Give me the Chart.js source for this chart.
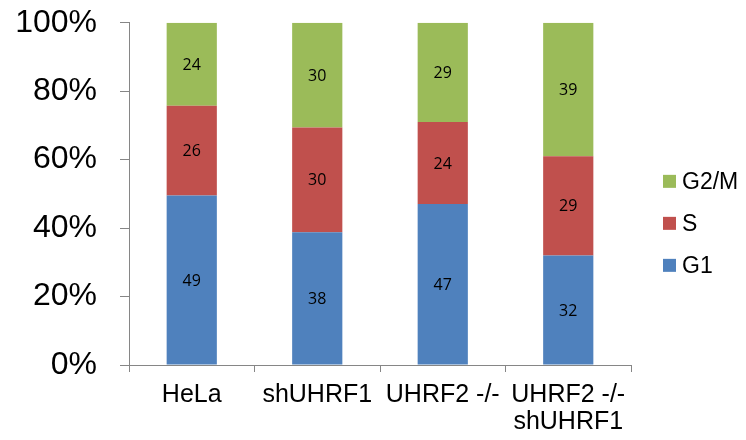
<!DOCTYPE html>
<html>
<head>
<meta charset="utf-8">
<script src="https://cdn.jsdelivr.net/npm/chart.js@4/dist/chart.umd.min.js"></script>
<style>
  html, body { margin: 0; padding: 0; background: #ffffff; }
  #wrap { width: 746px; height: 440px; }
</style>
</head>
<body>
<div id="wrap"><canvas id="c" width="746" height="440"></canvas></div>
<script>
// Cell-cycle distribution per cell line (raw counts, shown on the bars)
const categories = ["HeLa", "shUHRF1", "UHRF2 -/-", ["UHRF2 -/-", "shUHRF1"]];
const g1Values  = [49, 38, 47, 32];
const sValues   = [26, 30, 24, 29];
const g2mValues = [24, 30, 29, 39];
const seriesNames = ["G1", "S", "G2/M"];
const yTickLabels = ["0%", "20%", "40%", "60%", "80%", "100%"];

// 100% stacking: each phase as a share of its bar's total
const totals = g1Values.map((v, i) => v + sValues[i] + g2mValues[i]);
const toShare = arr => arr.map((v, i) => v / totals[i] * 100);

const AXIS_GREY = "#868686";

// Count labels in the middle of each segment
const segmentLabels = {
  id: "segmentLabels",
  afterDatasetsDraw(chart) {
    const ctx = chart.ctx;
    ctx.save();
    ctx.font = "16px 'Open Sans'";
    ctx.fillStyle = "#000000";
    ctx.textAlign = "center";
    ctx.textBaseline = "middle";
    chart.data.datasets.forEach((ds, di) => {
      const meta = chart.getDatasetMeta(di);
      meta.data.forEach((bar, i) => {
        const props = bar.getProps(["x", "y", "base"], true);
        ctx.fillText(String(ds.counts[i]), props.x, (props.y + props.base) / 2 + 1);
      });
    });
    ctx.restore();
  }
};

// Legend to the right of the plot, top entry = top segment
const sideLegend = {
  id: "sideLegend",
  afterDraw(chart) {
    const ctx = chart.ctx;
    const area = chart.chartArea;
    const x0 = area.right + 32;
    const rowGap = 42;
    const items = chart.data.datasets.slice().reverse();
    const yStart = (area.top + area.bottom) / 2 - rowGap * (items.length - 1) / 2 + 30;
    ctx.save();
    ctx.font = "23px 'Liberation Sans', Arial, sans-serif";
    ctx.textBaseline = "middle";
    ctx.textAlign = "left";
    items.forEach((ds, k) => {
      const cy = yStart + k * rowGap;
      ctx.fillStyle = ds.backgroundColor;
      ctx.fillRect(x0, cy - 7, 13, 13);
      ctx.fillStyle = "#000000";
      ctx.fillText(ds.label, x0 + 19, cy + 1);
    });
    ctx.restore();
  }
};

new Chart(document.getElementById("c"), {
  type: "bar",
  data: {
    labels: categories,
    datasets: [
      { label: seriesNames[0], data: toShare(g1Values),  counts: g1Values,  backgroundColor: "#4F81BD" },
      { label: seriesNames[1], data: toShare(sValues),   counts: sValues,   backgroundColor: "#C0504D" },
      { label: seriesNames[2], data: toShare(g2mValues), counts: g2mValues, backgroundColor: "#9BBB59" }
    ]
  },
  options: {
    responsive: false,
    animation: false,
    devicePixelRatio: 1,
    layout: { padding: { top: 22.7, right: 115, bottom: 0, left: 0 } },
    datasets: { bar: { barPercentage: 0.4, categoryPercentage: 1.0, borderWidth: 0 } },
    plugins: {
      legend: { display: false },
      tooltip: { enabled: false }
    },
    scales: {
      x: {
        stacked: true,
        offset: true,
        afterFit(scale) { scale.height = 75; },
        grid: {
          display: true,
          offset: true,
          drawOnChartArea: false,
          drawTicks: true,
          tickLength: 7,
          color: AXIS_GREY,
          lineWidth: 1
        },
        border: { display: true, color: AXIS_GREY, width: 1 },
        ticks: {
          color: "#000000",
          padding: 9,
          maxRotation: 0,
          autoSkip: false,
          font: { family: "'Liberation Sans', Arial, sans-serif", size: 25, lineHeight: 1.1 }
        }
      },
      y: {
        stacked: true,
        min: 0,
        max: 100,
        afterFit(scale) {
          scale.width = 129;
          // the label gap should not push the plot down
          scale.paddingTop = 0;
          scale.paddingBottom = 0;
        },
        grid: {
          display: true,
          drawOnChartArea: false,
          drawTicks: true,
          tickLength: 9,
          color: AXIS_GREY,
          lineWidth: 1
        },
        border: { display: true, color: AXIS_GREY, width: 1 },
        ticks: {
          stepSize: 20,
          color: "#000000",
          padding: 23,
          font: { family: "'Liberation Sans', Arial, sans-serif", size: 32 },
          callback: (v) => yTickLabels[Math.round(v / 20)]
        }
      }
    }
  },
  plugins: [segmentLabels, sideLegend]
});
</script>
</body>
</html>
